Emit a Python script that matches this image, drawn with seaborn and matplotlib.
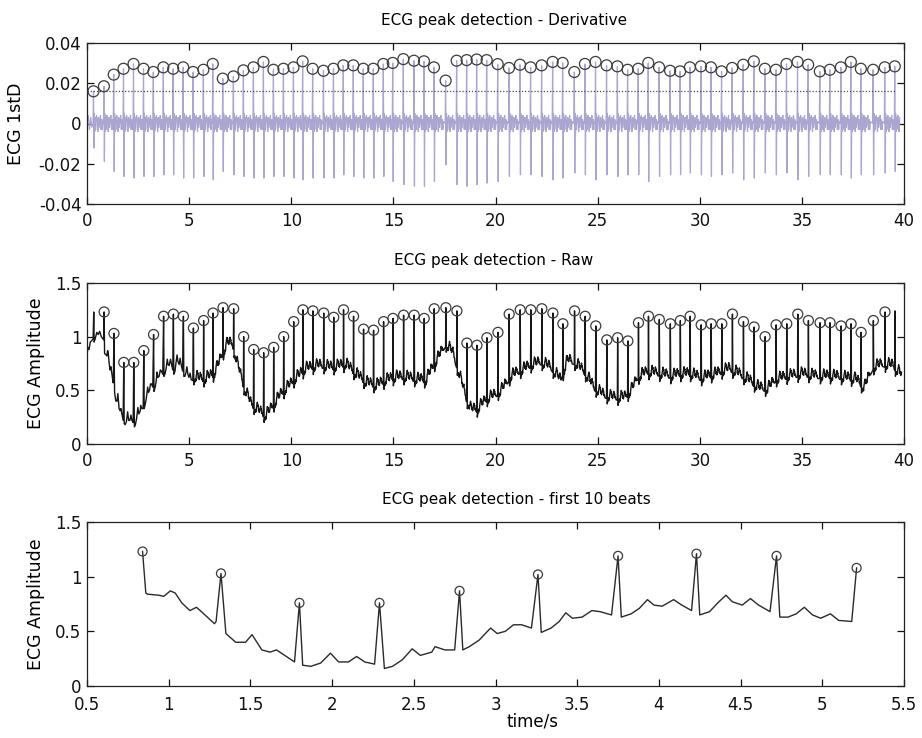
import numpy as np
import matplotlib
matplotlib.use("Agg")
import matplotlib.pyplot as plt
import seaborn as sns

# ---------------- data ----------------
# R-peak times (s) of all detected beats (first and last only detected in the derivative)
beat_times = [0.33, 0.84, 1.32, 1.80, 2.29, 2.78, 3.26, 3.75, 4.23, 4.72, 5.21,
              5.71, 6.17, 6.66, 7.18, 7.67, 8.16, 8.65, 9.14, 9.63, 10.12,
              10.57, 11.06, 11.59, 12.08, 12.56, 13.05, 13.54, 14.03, 14.52, 14.98,
              15.50, 16.02, 16.51, 17.00, 17.57, 18.11, 18.60, 19.09, 19.58, 20.12,
              20.67, 21.21, 21.73, 22.27, 22.81, 23.30, 23.87, 24.39, 24.91, 25.45,
              25.98, 26.48, 27.00, 27.49, 28.02, 28.56, 29.05, 29.53, 30.07, 30.56,
              31.08, 31.60, 32.14, 32.66, 33.20, 33.74, 34.26, 34.80, 35.32, 35.89,
              36.38, 36.92, 37.41, 37.90, 38.50, 39.07, 39.56]

# R-peak amplitudes in the raw ECG
raw_peaks = [1.23,
             1.23, 1.03, 0.76, 0.76, 0.87, 1.02, 1.19, 1.21, 1.19, 1.08,
             1.15, 1.22, 1.27, 1.26, 1.00, 0.88, 0.85, 0.90, 1.00, 1.14,
             1.25, 1.24, 1.22, 1.18, 1.25, 1.19, 1.07, 1.06, 1.14, 1.17,
             1.20, 1.20, 1.17, 1.26, 1.27, 1.24, 0.94, 0.92, 0.99, 1.04,
             1.21, 1.25, 1.25, 1.26, 1.22, 1.12, 1.24, 1.19, 1.10, 0.97,
             0.99, 0.96, 1.13, 1.19, 1.16, 1.12, 1.15, 1.19, 1.11,
             1.12, 1.12, 1.21, 1.14, 1.09, 1.00, 1.11, 1.12, 1.21, 1.15,
             1.13, 1.13, 1.10, 1.12, 1.04, 1.15, 1.23,
             1.24]

# derivative maxima (circles) and minima
deriv_peaks = [0.0160, 0.0185, 0.0243, 0.0272, 0.0296, 0.0272, 0.0256, 0.0279, 0.0272, 0.0279,
               0.0256, 0.0267, 0.0296, 0.0223, 0.0234, 0.0264, 0.0279, 0.0306, 0.0267, 0.0272,
               0.0279, 0.0309, 0.0272, 0.0262, 0.0272, 0.0289, 0.0289, 0.0272, 0.0272, 0.0296,
               0.0301, 0.0320, 0.0312, 0.0309, 0.0279, 0.0213, 0.0312, 0.0315, 0.0318, 0.0315,
               0.0295,
               0.0276, 0.0292, 0.0279, 0.0289, 0.0306, 0.0301, 0.0256, 0.0296, 0.0306, 0.0289,
               0.0284, 0.0267, 0.0272, 0.0301, 0.0279, 0.0262, 0.0259, 0.0279, 0.0284, 0.0279,
               0.0259, 0.0276, 0.0292, 0.0309, 0.0272, 0.0267, 0.0296, 0.0306, 0.0292, 0.0259,
               0.0267, 0.0279, 0.0306, 0.0272, 0.0267, 0.0279, 0.0284]
deriv_troughs = [-0.0122, -0.0188, -0.0238, -0.0263, -0.0271, -0.0263, -0.0263, -0.0255, -0.0255, -0.0271,
                 -0.0271, -0.0263, -0.0280, -0.0238, -0.0255, -0.0263, -0.0271, -0.0271, -0.0263, -0.0263,
                 -0.0271, -0.0280, -0.0271, -0.0271, -0.0271, -0.0255, -0.0263, -0.0271, -0.0271, -0.0263,
                 -0.0288, -0.0304, -0.0312, -0.0312, -0.0288, -0.0205, -0.0304, -0.0312, -0.0304, -0.0296,
                 -0.0288,
                 -0.0263, -0.0255, -0.0255, -0.0263, -0.0280, -0.0271, -0.0246, -0.0255, -0.0280, -0.0255,
                 -0.0263, -0.0255, -0.0255, -0.0288, -0.0263, -0.0255, -0.0255, -0.0246, -0.0255, -0.0263,
                 -0.0255, -0.0246, -0.0280, -0.0271, -0.0246, -0.0255, -0.0246, -0.0280, -0.0263, -0.0255,
                 -0.0255, -0.0255, -0.0271, -0.0255, -0.0255, -0.0246, -0.0238]
deriv_threshold = 0.016

# raw ECG before the first circled beat
lead_t = [0.00, 0.05, 0.10, 0.16, 0.22, 0.30, 0.35, 0.40, 0.48, 0.55, 0.62, 0.70, 0.78, 0.82]
lead_v = [0.84, 0.90, 0.88, 0.95, 0.96, 0.98, 0.95, 0.98, 1.04, 1.02, 1.05, 1.00, 0.98, 0.97]

# raw ECG, first 10 beats (bottom panel trace)
first10_t = [0.84, 0.86, 0.87, 0.94, 0.97, 1.01, 1.04, 1.08, 1.13, 1.17, 1.20, 1.28, 1.29,
             1.32, 1.35, 1.41, 1.47, 1.51, 1.57, 1.62, 1.66, 1.75, 1.77,
             1.80, 1.82, 1.87, 1.93, 1.99, 2.04, 2.10, 2.15, 2.20, 2.26,
             2.29, 2.32, 2.37, 2.43, 2.49, 2.54, 2.61, 2.63, 2.69, 2.75,
             2.78, 2.80, 2.84, 2.90, 2.97, 3.01, 3.06, 3.11, 3.16, 3.22,
             3.26, 3.28, 3.34, 3.39, 3.43, 3.47, 3.53, 3.59, 3.64, 3.71,
             3.75, 3.77, 3.83, 3.88, 3.93, 3.97, 4.02, 4.09, 4.14, 4.20,
             4.23, 4.25, 4.31, 4.36, 4.41, 4.45, 4.51, 4.56, 4.61, 4.68,
             4.72, 4.74, 4.79, 4.84, 4.89, 4.94, 4.99, 5.05, 5.10, 5.18,
             5.21]
first10_v = [1.23, 0.85, 0.84, 0.83, 0.82, 0.87, 0.85, 0.76, 0.69, 0.72, 0.68, 0.57, 0.59,
             1.03, 0.48, 0.40, 0.40, 0.47, 0.33, 0.31, 0.33, 0.24, 0.22,
             0.76, 0.19, 0.18, 0.21, 0.30, 0.22, 0.22, 0.27, 0.22, 0.20,
             0.76, 0.16, 0.18, 0.24, 0.34, 0.28, 0.31, 0.36, 0.33, 0.33,
             0.87, 0.33, 0.36, 0.42, 0.53, 0.48, 0.50, 0.56, 0.56, 0.53,
             1.02, 0.49, 0.53, 0.59, 0.67, 0.62, 0.63, 0.69, 0.68, 0.65,
             1.19, 0.63, 0.66, 0.71, 0.79, 0.74, 0.73, 0.79, 0.74, 0.69,
             1.21, 0.65, 0.68, 0.76, 0.83, 0.77, 0.74, 0.80, 0.74, 0.68,
             1.19, 0.63, 0.63, 0.66, 0.72, 0.65, 0.62, 0.66, 0.60, 0.59,
             1.08]

# baseline wander of the raw ECG after the first 10 beats
wander_t = [5.25, 5.74, 6.23, 6.56, 6.88, 7.13, 7.37, 7.70, 8.03, 8.52, 8.76, 9.17, 9.49, 9.90,
            10.23, 10.72, 11.37, 12.03, 12.68, 13.17, 13.66, 14.15, 14.64, 15.13, 15.62, 16.10,
            16.59, 16.92, 17.25, 17.57, 17.90, 18.23, 18.55, 18.80, 19.12, 19.53, 20.03, 20.26,
            20.76, 21.24, 21.73, 22.22, 22.71, 23.20, 23.53, 23.86, 24.34, 24.83, 25.32, 25.81,
            26.30, 26.63, 26.96, 27.45, 28.10, 28.59, 29.08, 29.57, 30.06, 30.79, 31.44, 31.93,
            32.42, 32.91, 33.32, 33.72, 34.38, 35.03, 35.68, 36.33, 36.99, 37.64, 38.05, 38.46,
            38.95, 39.44, 39.93]
wander_v = [0.63, 0.61, 0.66, 0.81, 0.95, 0.94, 0.75, 0.53, 0.38, 0.30, 0.27, 0.38, 0.47, 0.55,
            0.62, 0.71, 0.74, 0.72, 0.75, 0.66, 0.58, 0.55, 0.60, 0.63, 0.63, 0.61,
            0.60, 0.72, 0.83, 0.94, 0.86, 0.66, 0.44, 0.33, 0.33, 0.42, 0.47, 0.50,
            0.64, 0.69, 0.74, 0.77, 0.72, 0.60, 0.79, 0.77, 0.68, 0.53, 0.46, 0.44,
            0.44, 0.50, 0.63, 0.68, 0.66, 0.64, 0.66, 0.66, 0.62, 0.66, 0.71, 0.66,
            0.60, 0.53, 0.52, 0.61, 0.64, 0.66, 0.64, 0.64, 0.63, 0.61, 0.53, 0.72,
            0.75, 0.74, 0.64]

# beat shape after an R peak (offset s, offset from baseline)
raw_wave_dt = [0.02, 0.04, 0.06, 0.08, 0.10, 0.12, 0.14, 0.16, 0.18, 0.20, 0.22, 0.24,
               0.26, 0.28, 0.30, 0.32, 0.34, 0.36, 0.38, 0.40, 0.42, 0.44, 0.46]
raw_wave_dv = [-0.08, -0.05, -0.03, -0.05, -0.02, -0.04, 0.01, 0.03, 0.06, 0.03, 0.04, -0.01,
               0.01, -0.02, 0.00, 0.02, 0.05, 0.02, 0.03, -0.01, 0.00, -0.02, -0.03]
# derivative ripple between beats
der_wave_dt = [0.03, 0.05, 0.07, 0.09, 0.11, 0.14, 0.17, 0.20, 0.23, 0.26, 0.30, 0.33,
               0.36, 0.39, 0.42, 0.45]
der_wave_dv = [0.005, -0.004, 0.003, -0.003, 0.002, 0.004, 0.001, -0.004, 0.003, -0.002,
               0.002, 0.004, -0.003, 0.002, -0.003, 0.001]
der_lead_t = [0.00, 0.06, 0.12, 0.18, 0.24]
der_lead_v = [0.000, 0.004, -0.003, 0.003, -0.002]

# ---------------- build the traces ----------------
n = len(beat_times)
end_t = 39.92

# raw ECG
rt = list(lead_t[:6]) + [beat_times[0]] + list(lead_t[6:]) + list(first10_t)
rv = list(lead_v[:6]) + [raw_peaks[0]] + list(lead_v[6:]) + list(first10_v)
for i in range(10, n):
    tr = beat_times[i]
    tn = beat_times[i + 1] if i < n - 1 else end_t
    if i > 10:
        tq = tr - 0.015
        rt += [tq, tr]
        rv += [float(np.interp(tq, wander_t, wander_v)) - 0.03, raw_peaks[i]]
    for dt, dv in zip(raw_wave_dt, raw_wave_dv):
        tt = tr + dt
        if tt < tn - 0.02:
            rt.append(tt)
            rv.append(float(np.interp(tt, wander_t, wander_v)) + dv)

# derivative
dtr = list(der_lead_t)
dvr = list(der_lead_v)
for i in range(n):
    tr = beat_times[i]
    tn = beat_times[i + 1] if i < n - 1 else 39.85
    dtr += [tr - 0.035, tr - 0.012, tr + 0.012]
    dvr += [0.0, deriv_peaks[i], deriv_troughs[i]]
    for dt, dv in zip(der_wave_dt, der_wave_dv):
        if tr + dt < tn - 0.04:
            dtr.append(tr + dt)
            dvr.append(dv)

deriv_circle_t = [t - 0.012 for t in beat_times]

# ---------------- figure ----------------
plt.rcParams["font.family"] = ["DejaVu Sans"]
plt.rcParams["axes.unicode_minus"] = False

fig = plt.figure(figsize=(9.22, 7.38), dpi=100)
fig.patch.set_facecolor("white")
L, W = 87 / 922, 817 / 922
ax1 = fig.add_axes([L, 1 - 204 / 738, W, 161 / 738])
ax2 = fig.add_axes([L, 1 - 444 / 738, W, 161 / 738])
ax3 = fig.add_axes([L, 1 - 686 / 738, W, 164 / 738])

lav = "#aaa6d0"
edge = "#3c3c3c"

# top: derivative
sns.lineplot(x=dtr, y=dvr, ax=ax1, color=lav, lw=0.9, sort=False, estimator=None)
sns.lineplot(x=[0, 39.55], y=[deriv_threshold, deriv_threshold], ax=ax1, color="#4a4a4a",
             lw=0.9, linestyle=(0, (1, 1.5)), sort=False, estimator=None)
sns.scatterplot(x=deriv_circle_t, y=deriv_peaks, ax=ax1, marker="o", s=62,
                facecolor="none", edgecolor=edge, linewidth=0.9, zorder=5)
ax1.set_xlim(0, 40)
ax1.set_ylim(-0.04, 0.04)
ax1.set_yticks([-0.04, -0.02, 0, 0.02, 0.04])
ax1.set_yticklabels(["-0.04", "-0.02", "0", "0.02", "0.04"])
ax1.set_xticks(range(0, 41, 5))
ax1.set_xticklabels([str(v) for v in range(0, 41, 5)])
ax1.set_ylabel("ECG 1stD", fontsize=12.5)
ax1.yaxis.set_label_coords((25 - 87) / 817, 0.5)
ax1.set_title("ECG peak detection - Derivative", fontsize=11, pad=13, x=0.51)

# middle: raw
sns.lineplot(x=rt, y=rv, ax=ax2, color="#161616", lw=1.0, sort=False, estimator=None)
sns.scatterplot(x=beat_times[1:-1], y=raw_peaks[1:-1], ax=ax2, marker="o", s=52,
                facecolor="none", edgecolor=edge, linewidth=0.9, zorder=5)
ax2.set_xlim(0, 40)
ax2.set_ylim(0, 1.5)
ax2.set_yticks([0, 0.5, 1, 1.5])
ax2.set_yticklabels(["0", "0.5", "1", "1.5"])
ax2.set_xticks(range(0, 41, 5))
ax2.set_xticklabels([str(v) for v in range(0, 41, 5)])
ax2.set_ylabel("ECG Amplitude", fontsize=12.5)
ax2.yaxis.set_label_coords((45 - 87) / 817, 0.5)
ax2.set_title("ECG peak detection - Raw", fontsize=11, pad=13, x=0.498)

# bottom: first 10 beats
sns.lineplot(x=first10_t, y=first10_v, ax=ax3, color="#2a2a2a", lw=1.0, sort=False, estimator=None)
sns.scatterplot(x=beat_times[1:11], y=raw_peaks[1:11], ax=ax3, marker="o", s=42,
                facecolor="none", edgecolor=edge, linewidth=0.9, zorder=5)
ax3.set_xlim(0.5, 5.5)
ax3.set_ylim(0, 1.5)
ax3.set_yticks([0, 0.5, 1, 1.5])
ax3.set_yticklabels(["0", "0.5", "1", "1.5"])
xt = [0.5, 1, 1.5, 2, 2.5, 3, 3.5, 4, 4.5, 5, 5.5]
ax3.set_xticks(xt)
ax3.set_xticklabels(["0.5", "1", "1.5", "2", "2.5", "3", "3.5", "4", "4.5", "5", "5.5"])
ax3.set_ylabel("ECG Amplitude", fontsize=12.5)
ax3.yaxis.set_label_coords((45 - 87) / 817, 0.5)
ax3.set_xlabel("time/s", fontsize=12)
ax3.xaxis.set_label_coords((532 - 87) / 817, -(712 - 686) / 164)
ax3.set_title("ECG peak detection - first 10 beats", fontsize=11, pad=13, x=0.526)

for ax in (ax1, ax2, ax3):
    ax.set_facecolor("white")
    ax.grid(False)
    for sp in ax.spines.values():
        sp.set_visible(True)
        sp.set_color("#222222")
        sp.set_linewidth(0.9)
    ax.tick_params(direction="in", length=5, width=0.9, top=True, right=True,
                   labelsize=12, colors="#111111")
    ax.tick_params(axis="x", pad=6)
    ax.tick_params(axis="y", pad=4)
    if ax.get_legend() is not None:
        ax.get_legend().remove()

# a little extra room between the corner labels of the bottom panel
ax3.tick_params(axis="x", pad=7.5)

fig.savefig("out.png", dpi=100, facecolor="white")
